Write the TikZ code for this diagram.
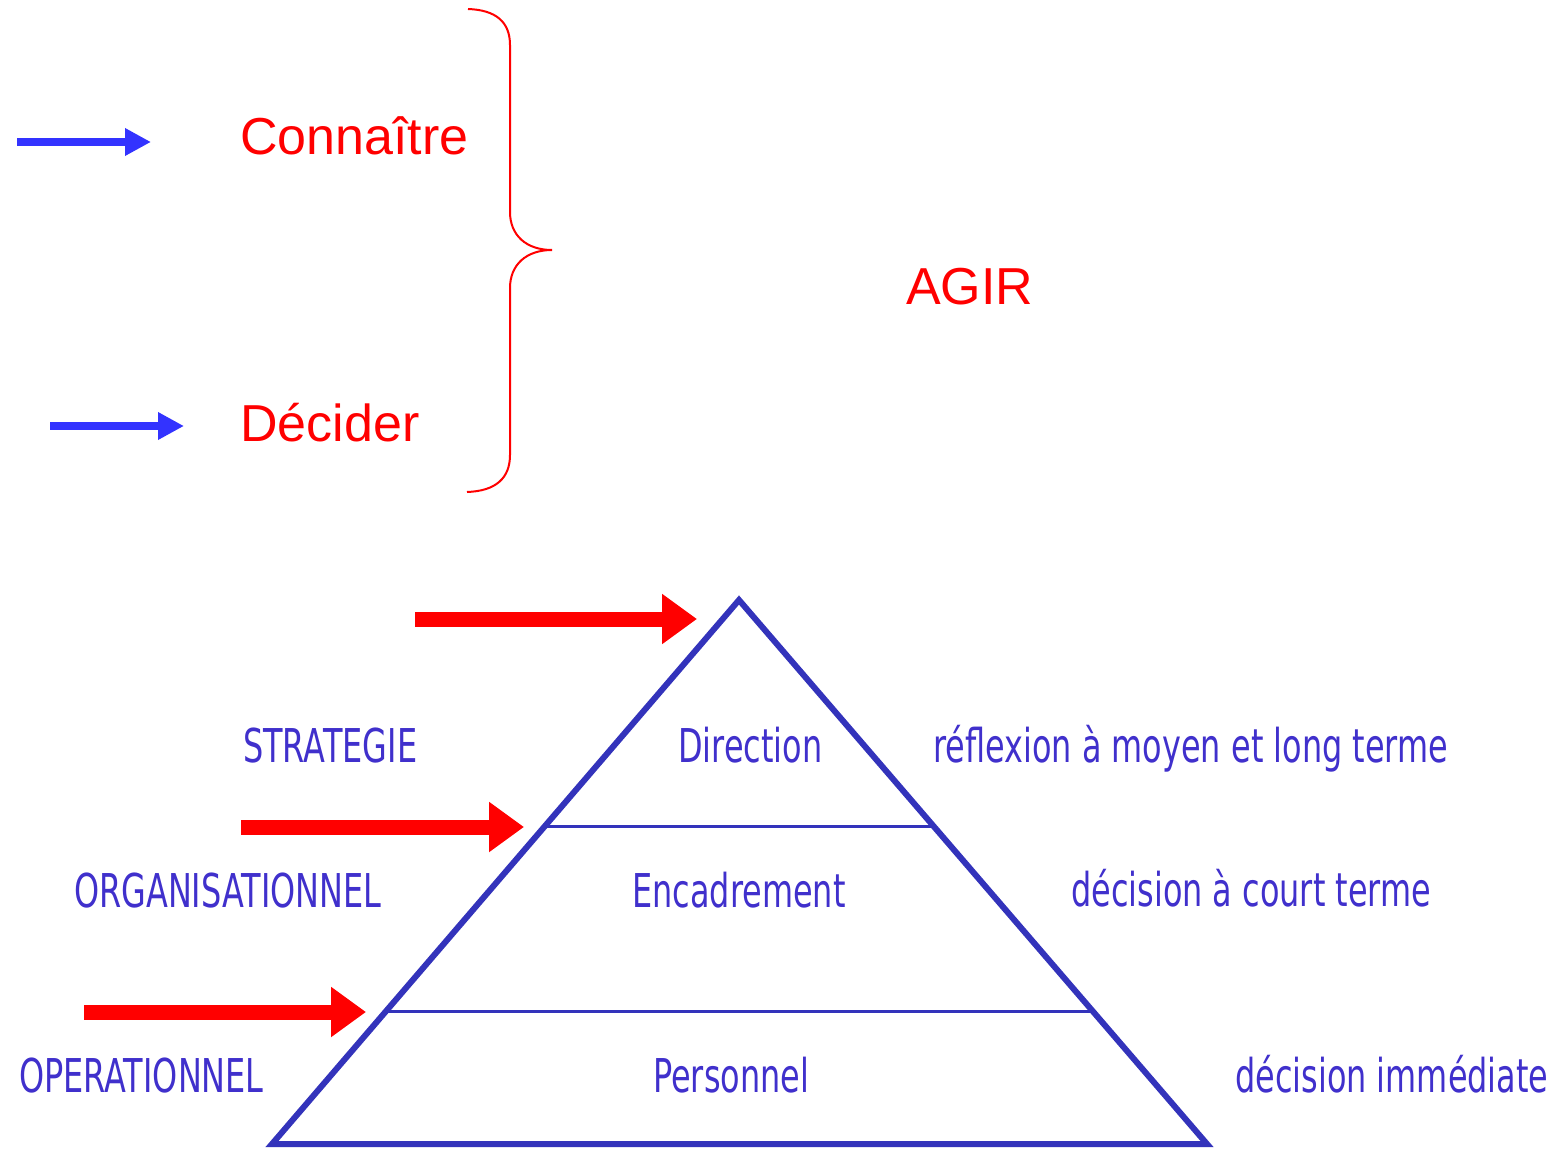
\documentclass[tikz,border=0pt]{standalone}
\usepackage{fontspec}
\setmainfont{Liberation Sans}
\newfontfamily\levelfont[FakeStretch=0.685]{DejaVu Sans}
\usetikzlibrary{arrows.meta}
\pgfdeclarelayer{edgelayer}
\pgfdeclarelayer{nodelayer}
\pgfsetlayers{edgelayer,nodelayer,main}
\definecolor{agirred}{RGB}{255,0,0}
\definecolor{arrowblue}{RGB}{51,51,255}
\definecolor{pyrblue}{RGB}{51,51,187}
\definecolor{textblue}{RGB}{64,48,204}
\tikzstyle{verb}=[text=agirred,font=\fontsize{52}{60}\selectfont,inner sep=0pt,anchor=base west]
\tikzstyle{level}=[text=textblue,font=\levelfont\fontsize{46.6}{54}\selectfont,inner sep=0pt,anchor=base west]
\tikzstyle{small arrow}=[draw=arrowblue,line width=8pt,-{Triangle[length=26pt,width=26pt]}]
\tikzstyle{big arrow}=[draw=agirred,line width=15pt,-{Triangle[length=35pt,width=48pt]}]
\tikzstyle{pyramid}=[draw=pyrblue,line width=6pt,line join=miter]
\tikzstyle{tier}=[draw=pyrblue,line width=3pt]
\tikzstyle{brace}=[draw=agirred,line width=2pt]

\begin{document}
\begin{tikzpicture}[x=1pt,y=-1pt]
	\useasboundingbox (0, 0) rectangle (1555, 1150);
	\begin{pgfonlayer}{nodelayer}
		\node [style=verb] (0) at (240, 155) {Connaître};
		\node [style=verb] (1) at (240, 441) {Décider};
		\node [style=verb] (2) at (906, 305) {AGIR};
		\node [style=level] (3) at (243, 762) {STRATEGIE};
		\node [style=level] (4) at (678, 762) {Direction};
		\node [style=level] (5) at (933, 762) {réflexion à moyen et long terme};
		\node [style=level] (6) at (74, 907) {ORGANISATIONNEL};
		\node [style=level] (7) at (632, 907) {Encadrement};
		\node [style=level] (8) at (1071, 906) {décision à court terme};
		\node [style=level] (9) at (19, 1092) {OPERATIONNEL};
		\node [style=level] (10) at (653, 1092) {Personnel};
		\node [style=level] (11) at (1235, 1092) {décision immédiate};
	\end{pgfonlayer}
	\begin{pgfonlayer}{edgelayer}
		\coordinate (20) at (17, 142);
		\coordinate (21) at (151, 142);
		\coordinate (22) at (50, 426);
		\coordinate (23) at (184, 426);
		\coordinate (24) at (415, 619);
		\coordinate (25) at (697, 619);
		\coordinate (26) at (241, 827);
		\coordinate (27) at (524, 827);
		\coordinate (28) at (84, 1012);
		\coordinate (29) at (366, 1012);
		\coordinate (30) at (739, 600);
		\coordinate (31) at (272, 1144);
		\coordinate (32) at (1207, 1144);
		\coordinate (33) at (546, 826);
		\coordinate (34) at (934, 826);
		\coordinate (35) at (387, 1011);
		\coordinate (36) at (1090, 1011);
		\draw [style=small arrow] (20) to (21);
		\draw [style=small arrow] (22) to (23);
		\draw [style=big arrow] (24) to (25);
		\draw [style=big arrow] (26) to (27);
		\draw [style=big arrow] (28) to (29);
		\draw [style=pyramid] (30) -- (31) -- (32) -- cycle;
		\draw [style=tier] (33) to (34);
		\draw [style=tier] (35) to (36);
		\draw [style=brace] (468, 9) .. controls (496, 10) and (510, 22) .. (510, 45)
			-- (510, 212) .. controls (510, 235) and (526, 250) .. (552, 250)
			.. controls (526, 250) and (510, 265) .. (510, 288)
			-- (510, 455) .. controls (510, 478) and (496, 491) .. (467, 492);
	\end{pgfonlayer}
\end{tikzpicture}
\end{document}
